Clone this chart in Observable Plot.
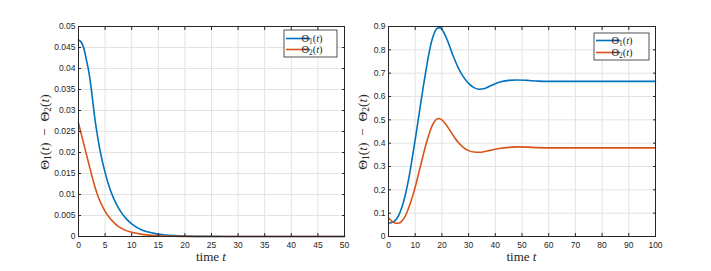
<!DOCTYPE html>
<html><head><meta charset="utf-8">
<script src="https://cdn.jsdelivr.net/npm/d3@7"></script>
<script src="https://cdn.jsdelivr.net/npm/@observablehq/plot@0.6"></script>
<style>
body{margin:0;background:#fff}
#wrap{position:relative;width:711px;height:271px;overflow:hidden}
#wrap svg{position:absolute;top:0}
#wrap svg text.serif{font-family:"Liberation Serif","DejaVu Serif",serif !important}
</style>
</head><body><div id="wrap"></div>
<script>
// ---- Left panel data ----
const leftT      = [0, 0.5, 1, 1.5, 2, 2.5, 3, 3.5, 4, 5, 6, 7, 8, 9, 10, 12, 14, 16, 18, 20, 25, 30, 40, 50];
const leftTheta1 = [0.0468, 0.0463, 0.0448, 0.0420, 0.0388, 0.0342, 0.0288, 0.0245, 0.0208, 0.0152, 0.0110, 0.0080, 0.0058, 0.0042, 0.0030, 0.0015, 0.0008, 0.0004, 0.0002, 0.0001, 0.00002, 0, 0, 0];
const leftTheta2 = [0.0270, 0.0245, 0.0220, 0.0195, 0.0170, 0.0145, 0.0122, 0.0102, 0.0085, 0.0060, 0.0042, 0.0029, 0.0020, 0.0014, 0.0010, 0.0005, 0.00025, 0.0001, 0.00005, 0.00002, 0, 0, 0, 0];
const leftXTicks = [0, 5, 10, 15, 20, 25, 30, 35, 40, 45, 50];
const leftXTickLabels = ["0","5","10","15","20","25","30","35","40","45","50"];
const leftYTicks = [0, 0.005, 0.01, 0.015, 0.02, 0.025, 0.03, 0.035, 0.04, 0.045, 0.05];
const leftYTickLabels = ["0","0.005","0.01","0.015","0.02","0.025","0.03","0.035","0.04","0.045","0.05"];

// ---- Right panel data ----
const rightT      = [0, 1, 2, 3, 4, 5, 6, 7, 8, 9, 10, 11, 12, 13, 14, 15, 16, 17, 18, 19, 20, 21, 22, 23, 24, 25, 26, 28, 30, 32, 34, 36, 38, 40, 42, 45, 48, 52, 56, 60, 70, 80, 90, 100];
const rightTheta1 = [0.058, 0.059, 0.064, 0.075, 0.095, 0.125, 0.165, 0.215, 0.275, 0.345, 0.415, 0.49, 0.565, 0.64, 0.71, 0.775, 0.83, 0.868, 0.89, 0.895, 0.888, 0.868, 0.842, 0.812, 0.78, 0.752, 0.726, 0.685, 0.656, 0.638, 0.631, 0.634, 0.645, 0.655, 0.663, 0.669, 0.671, 0.669, 0.666, 0.665, 0.665, 0.665, 0.665, 0.665];
const rightTheta2 = [0.080, 0.068, 0.060, 0.057, 0.058, 0.066, 0.082, 0.106, 0.137, 0.172, 0.212, 0.257, 0.303, 0.349, 0.393, 0.432, 0.465, 0.489, 0.503, 0.506, 0.500, 0.488, 0.472, 0.455, 0.437, 0.420, 0.405, 0.382, 0.368, 0.362, 0.361, 0.364, 0.369, 0.374, 0.378, 0.382, 0.384, 0.383, 0.381, 0.380, 0.380, 0.380, 0.380, 0.380];
const rightXTicks = [0, 10, 20, 30, 40, 50, 60, 70, 80, 90, 100];
const rightXTickLabels = ["0","10","20","30","40","50","60","70","80","90","100"];
const rightYTicks = [0, 0.1, 0.2, 0.3, 0.4, 0.5, 0.6, 0.7, 0.8, 0.9];
const rightYTickLabels = ["0","0.1","0.2","0.3","0.4","0.5","0.6","0.7","0.8","0.9"];

const seriesNames = ["Θ1", "Θ2"];
const seriesColors = ["#0072BD", "#D95319"];

const BLUE = seriesColors[0], ORANGE = seriesColors[1];
const FRAME = "#262626";
const GRID = "#e3e3e3";

function rows(ts, vs) { return ts.map((t, i) => ({t, v: vs[i]})); }

function richText(sel, parts, size) {
  parts.forEach(([txt, kind]) => {
    const ts = sel.append("tspan").text(txt);
    if (kind === "i") ts.style("font-style", "italic");
    if (kind === "sub") ts.style("font-size", (size * 0.7) + "px").attr("baseline-shift", "-22%");
  });
}

function panel(o) {
  const svg = Plot.plot({
    width: o.width, height: 271,
    marginLeft: o.ml, marginRight: o.mr, marginTop: 26, marginBottom: 35,
    x: {domain: o.xDomain, label: null},
    y: {domain: o.yDomain, label: null},
    style: {fontFamily: "'Liberation Sans', Arial, sans-serif", fontSize: "8.5px", color: FRAME, background: "transparent"},
    marks: [
      Plot.gridX(o.xTicks, {stroke: GRID, strokeOpacity: 1}),
      Plot.gridY(o.yTicks, {stroke: GRID, strokeOpacity: 1}),
      Plot.line(rows(o.t, o.a), {x: "t", y: "v", stroke: BLUE, strokeWidth: 1.6, curve: "monotone-x"}),
      Plot.line(rows(o.t, o.b), {x: "t", y: "v", stroke: ORANGE, strokeWidth: 1.6, curve: "monotone-x"}),
      Plot.axisX(o.xTicks, {anchor: "bottom", tickSize: 0, tickPadding: 5, tickFormat: (d, i) => o.xLabels[i], label: null}),
      Plot.axisY(o.yTicks, {anchor: "left", tickSize: 0, tickPadding: 3, tickFormat: (d, i) => o.yLabels[i], label: null}),
      Plot.axisX(o.xTicks, {anchor: "bottom", tickSize: -3, text: null, label: null, stroke: FRAME}),
      Plot.axisX(o.xTicks, {anchor: "top", tickSize: -3, text: null, label: null, stroke: FRAME}),
      Plot.axisY(o.yTicks, {anchor: "left", tickSize: -3, text: null, label: null, stroke: FRAME}),
      Plot.axisY(o.yTicks, {anchor: "right", tickSize: -3, text: null, label: null, stroke: FRAME}),
      Plot.frame({stroke: FRAME, strokeWidth: 1})
    ]
  });
  svg.style.left = o.left + "px";
  const s = d3.select(svg);
  const fx0 = o.ml, fx1 = o.width - o.mr;
  // x label
  const xl = s.append("text").attr("class", "serif").attr("x", (fx0 + fx1) / 2).attr("y", 261)
    .attr("text-anchor", "middle").style("font-size", "13px").attr("fill", FRAME);
  richText(xl, [["time ", ""], ["t", "i"]], 13);
  // y label
  const yl = s.append("text").attr("class", "serif").attr("transform", `translate(${o.yLabelX},132) rotate(-90)`)
    .attr("text-anchor", "middle").style("font-size", "13.5px").attr("fill", FRAME);
  richText(yl, [["Θ", ""], ["1", "sub"], ["(", ""], ["t", "i"], [")\u2002−\u2002Θ", ""], ["2", "sub"], ["(", ""], ["t", "i"], [")", ""]], 13.5);
  // legend
  const L = o.legend;
  const g = s.append("g");
  g.append("rect").attr("x", L.x).attr("y", L.y).attr("width", L.w).attr("height", L.h)
    .attr("fill", "#fff").attr("stroke", FRAME).attr("stroke-width", 0.8);
  seriesNames.forEach((nm, i) => {
    const yy = L.y + L.first + i * L.step;
    g.append("line").attr("x1", L.x + 2).attr("x2", L.x + 26).attr("y1", yy).attr("y2", yy)
      .attr("stroke", seriesColors[i]).attr("stroke-width", 1.6);
    const tx = g.append("text").attr("class", "serif").attr("x", L.x + 28).attr("y", yy + 3.5)
      .style("font-size", "10.5px").attr("fill", FRAME);
    richText(tx, [["Θ", ""], [nm.slice(1), "sub"], ["(", ""], ["t", "i"], [")", ""]], 10.5);
  });
  return svg;
}

const wrap = document.getElementById("wrap");
wrap.appendChild(panel({
  left: 0, width: 355, ml: 78, mr: 11,
  xDomain: [0, 50], yDomain: [0, 0.05],
  xTicks: leftXTicks, xLabels: leftXTickLabels, yTicks: leftYTicks, yLabels: leftYTickLabels,
  t: leftT, a: leftTheta1, b: leftTheta2,
  yLabelX: 49,
  legend: {x: 284, y: 30, w: 53, h: 27, first: 8.5, step: 11}
}));
wrap.appendChild(panel({
  left: 355, width: 356, ml: 33, mr: 56,
  xDomain: [0, 100], yDomain: [0, 0.9],
  xTicks: rightXTicks, xLabels: rightXTickLabels, yTicks: rightYTicks, yLabels: rightYTickLabels,
  t: rightT, a: rightTheta1, b: rightTheta2,
  yLabelX: 12,
  legend: {x: 239, y: 33, w: 55, h: 27, first: 7.5, step: 12}
}));
</script>
</body></html>
